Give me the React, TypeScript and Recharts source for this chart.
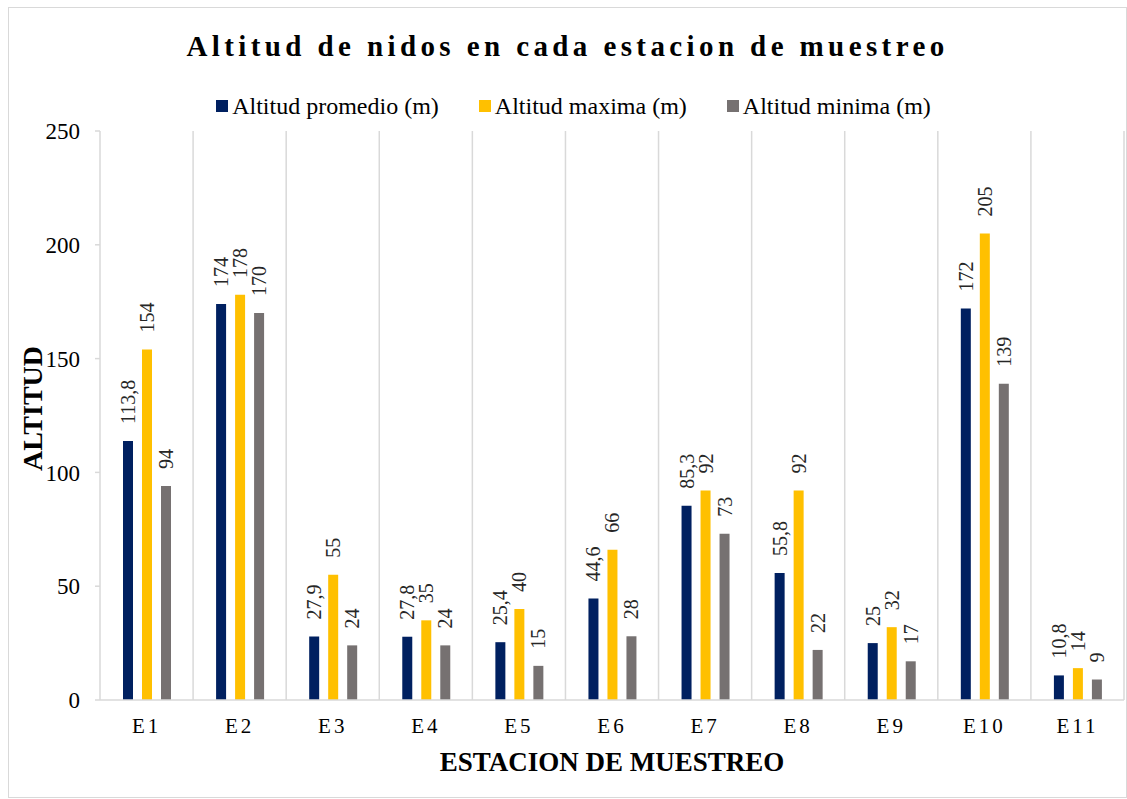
import React from 'react';
import { BarChart, Bar, XAxis, YAxis, CartesianGrid, Legend, LabelList } from 'recharts';

const estaciones = ['E1', 'E2', 'E3', 'E4', 'E5', 'E6', 'E7', 'E8', 'E9', 'E10', 'E11'];
const altitudPromedio = [113.8, 174, 27.9, 27.8, 25.4, 44.6, 85.3, 55.8, 25, 172, 10.8];
const altitudMaxima = [154, 178, 55, 35, 40, 66, 92, 92, 32, 205, 14];
const altitudMinima = [94, 170, 24, 24, 15, 28, 73, 22, 17, 139, 9];
const yTicks = [0, 50, 100, 150, 200, 250];

const series = [
  { key: 'promedio', name: 'Altitud promedio (m)', color: '#002060' },
  { key: 'maxima', name: 'Altitud maxima (m)', color: '#FFC000' },
  { key: 'minima', name: 'Altitud minima (m)', color: '#767171' },
];

const data = estaciones.map((estacion, i) => ({
  estacion,
  promedio: altitudPromedio[i],
  maxima: altitudMaxima[i],
  minima: altitudMinima[i],
}));

const FONT = "'Liberation Serif', 'Times New Roman', serif";
const GRID = '#d9d9d9';

// rotated value label sitting above each bar, decimal comma like the original
const renderValue = (props: any) => {
  const { x, y, width, value } = props;
  const cx = Number(x) + Number(width) / 2;
  const ty = Number(y) - 17;
  return (
    <text
      x={cx}
      y={ty}
      transform={`rotate(-90 ${cx} ${ty})`}
      textAnchor="start"
      dominantBaseline="central"
      fontSize={20}
      style={{ fontFamily: FONT }}
      fill="#262626"
    >
      {String(value).replace('.', ',')}
    </text>
  );
};

const renderLegend = () => (
  <div
    style={{
      display: 'flex',
      justifyContent: 'center',
      alignItems: 'center',
      height: 24,
      lineHeight: '24px',
      fontSize: 24,
      fontFamily: FONT,
      color: '#000',
      paddingLeft: 12,
      whiteSpace: 'nowrap',
    }}
  >
    {series.map((s, i) => (
      <span key={s.key} style={{ display: 'inline-flex', alignItems: 'center', marginLeft: i === 0 ? 0 : 40 }}>
        <span style={{ display: 'inline-block', width: 12, height: 12, background: s.color, marginRight: 4 }} />
        {s.name}
      </span>
    ))}
  </div>
);

const yTitle = (props: any) => {
  const vb = props.viewBox || { x: 0, y: 0, height: 0 };
  const cx = vb.x + 23;
  const cy = vb.y + vb.height / 2 - 7;
  return (
    <text
      x={cx}
      y={cy}
      transform={`rotate(-90 ${cx} ${cy})`}
      textAnchor="middle"
      dominantBaseline="central"
      fontSize={28}
      fontWeight="bold"
      style={{ fontFamily: FONT }}
      fill="#000"
    >
      ALTITUD
    </text>
  );
};

const xTitle = (props: any) => {
  const vb = props.viewBox || { x: 0, y: 0, width: 0 };
  return (
    <text
      x={vb.x + vb.width / 2}
      y={vb.y + 71}
      textAnchor="middle"
      fontSize={27}
      fontWeight="bold"
      style={{ fontFamily: FONT }}
      fill="#000"
    >
      ESTACION DE MUESTREO
    </text>
  );
};

export default function App() {
  return (
    <div
      style={{
        position: 'absolute',
        left: 8,
        top: 7,
        width: 1119,
        height: 791,
        boxSizing: 'border-box',
        border: `1px solid ${GRID}`,
        background: '#fff',
        fontFamily: FONT,
      }}
    >
      <div
        style={{
          position: 'absolute',
          top: 24,
          left: 0,
          right: 0,
          textAlign: 'center',
          fontSize: 29,
          lineHeight: '29px',
          fontWeight: 'bold',
          letterSpacing: 4.4,
          color: '#000',
          zIndex: 2,
        }}
      >
        Altitud de nidos en cada estacion de muestreo
      </div>
      <BarChart
        width={1117}
        height={789}
        data={data}
        margin={{ top: 99, right: 2, bottom: 0, left: 0 }}
        barGap={9}
        style={{ fontFamily: FONT }}
      >
        <CartesianGrid
          horizontal={false}
          stroke={GRID}
          strokeWidth={1.5}
          verticalCoordinatesGenerator={({ offset }: any) =>
            estaciones.map((_, i) => offset.left + ((i + 1) * offset.width) / estaciones.length)
          }
        />
        <XAxis
          dataKey="estacion"
          height={97}
          tickLine={false}
          tickSize={0}
          tickMargin={18}
          axisLine={{ stroke: GRID, strokeWidth: 1.5 }}
          tick={{ fill: '#000', fontSize: 21, fontFamily: FONT, style: { letterSpacing: 3, fontFamily: FONT } }}
          label={xTitle}
        />
        <YAxis
          width={91}
          domain={[0, 250]}
          ticks={yTicks}
          tickSize={5}
          tickMargin={15}
          axisLine={{ stroke: GRID, strokeWidth: 1.5 }}
          tickLine={{ stroke: GRID, strokeWidth: 1.5 }}
          tick={{ fill: '#000', fontSize: 23, fontFamily: FONT, style: { fontFamily: FONT } }}
          label={yTitle}
        />
        <Legend
          verticalAlign="top"
          content={renderLegend}
          wrapperStyle={{ top: 86, left: 0, width: 1117, height: 24 }}
        />
        {series.map((s) => (
          <Bar key={s.key} dataKey={s.key} name={s.name} fill={s.color} barSize={10} isAnimationActive={false}>
            <LabelList dataKey={s.key} content={renderValue} />
          </Bar>
        ))}
      </BarChart>
    </div>
  );
}
